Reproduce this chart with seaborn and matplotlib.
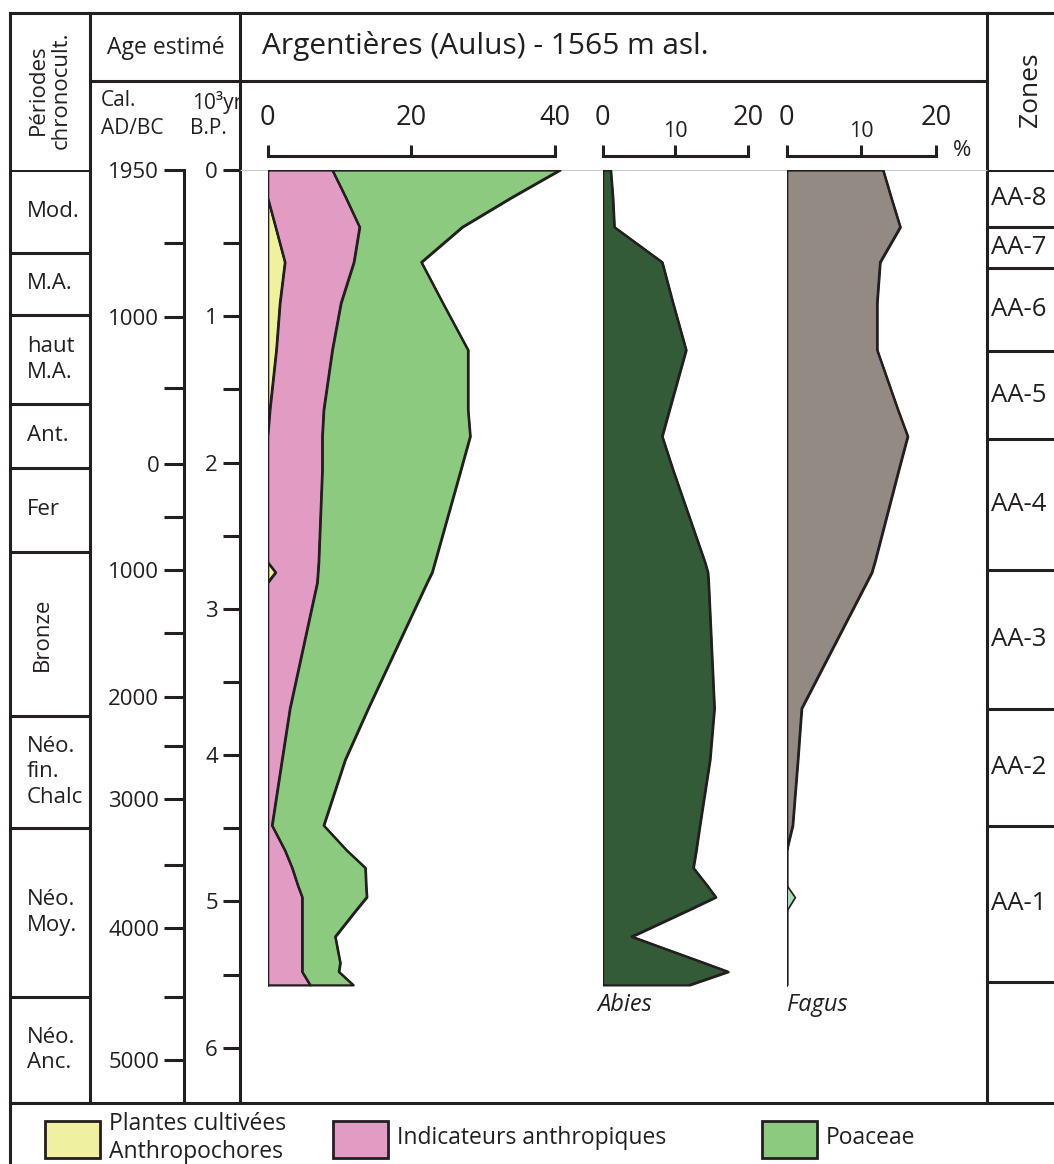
import numpy as np
import pandas as pd
import matplotlib
matplotlib.use('Agg')
import matplotlib.pyplot as plt
from matplotlib.patches import Rectangle
import seaborn as sns

sns.set_theme(style='white')
plt.rcParams['font.family'] = ['Open Sans', 'DejaVu Sans']

W, H = 1054, 1164

# ages des echantillons (10^3 yr BP)
age_bp = [0.00, 0.19, 0.39, 0.63, 0.91, 1.23, 1.64, 1.82, 2.05, 2.68, 2.75, 2.82,
          3.68, 4.03, 4.48, 4.65, 4.77, 4.89, 4.97, 5.06, 5.24, 5.42, 5.48, 5.57]
# % (courbes empilees : cultivees + indicateurs + poaceae)
cultivees = [0, 0, 1.1, 2.4, 1.7, 1.2, 0.3, 0, 0, 0, 1.1, 0,
             0, 0, 0, 0, 0, 0, 0, 0, 0, 0, 0, 0]
indicateurs = [9.0, 10.9, 11.7, 9.6, 8.5, 7.8, 7.5, 7.6, 7.6, 7.1, 5.9, 6.9,
               3.1, 2.0, 0.6, 2.4, 3.4, 4.2, 4.8, 4.8, 4.8, 4.8, 4.8, 5.9]
poaceae = [31.7, 23.0, 14.3, 9.4, 14.2, 18.9, 20.1, 20.6, 19.3, 16.2, 15.9, 15.3,
           10.9, 8.8, 7.2, 8.6, 10.2, 9.5, 9.0, 7.5, 4.6, 5.3, 5.1, 6.0]
abies = [1.1, 1.4, 1.6, 8.2, 9.7, 11.5, 9.2, 8.2, 9.7, 14.1, 14.5, 14.6,
         15.4, 14.8, 13.4, 12.9, 12.5, 14.4, 15.6, 11.8, 4.0, 14.0, 17.3, 12.0]
fagus = [12.9, 14.0, 15.2, 12.5, 12.1, 12.1, 14.9, 16.2, 15.0, 11.8, 11.4, 10.7,
         2.0, 1.5, 0.8, 0, 0, 0, 0, 0, 0, 0, 0, 0]
fagus_trace = [0, 0, 0, 0, 0, 0, 0, 0, 0, 0, 0, 0,
               0, 0, 0, 0, 0, 0, 1.1, 0, 0, 0, 0, 0]

# echelle calibree
cal_pos = [0, 1.003, 2.009, 2.734, 3.600, 4.300, 5.179, 6.083]
cal_labels = ['1950', '1000', '0', '1000', '2000', '3000', '4000', '5000']
cal_minor = [0.497, 1.489, 2.370, 3.167, 3.937, 4.750, 5.650]
bp_major = [0, 1, 2, 3, 4, 5, 6]
bp_minor = [0.5, 1.5, 2.5, 3.5, 4.5, 5.5]

periodes = ['Mod.', 'M.A.', 'haut\nM.A.', 'Ant.', 'Fer', 'Bronze',
            'Néo.\nfin.\nChalc', 'Néo.\nMoy.', 'Néo.\nAnc.']
periode_lim = [0, 0.565, 0.991, 1.599, 2.035, 2.609, 3.732, 4.496, 5.651, 6.378]
zones = ['AA-8', 'AA-7', 'AA-6', 'AA-5', 'AA-4', 'AA-3', 'AA-2', 'AA-1']
zone_lim = [0, 0.388, 0.672, 1.237, 1.841, 2.732, 3.682, 4.484, 5.550]

c_cult = '#eff0a0'
c_ind = '#e29bc3'
c_poa = '#8bca7f'
c_abies = '#345b38'
c_fagus = '#938a83'
c_trace = '#a6dcb6'
ink = '#231f20'

df = pd.DataFrame({'age': age_bp, 'cult': cultivees, 'ind': indicateurs,
                   'poa': poaceae, 'abies': abies, 'fagus': fagus,
                   'trace': fagus_trace})
df['c1'] = df['cult']
df['c2'] = df['c1'] + df['ind']
df['c3'] = df['c2'] + df['poa']

Y0, Y1 = 170, 1103
PXY = 146.3
DMAX = (Y1 - Y0) / PXY

fig = plt.figure(figsize=(W / 100, H / 100), dpi=100)

frame = fig.add_axes([0, 0, 1, 1])
frame.set_xlim(0, W)
frame.set_ylim(H, 0)
frame.axis('off')
frame.patch.set_alpha(0)


def add_ax(x0, x1):
    ax = fig.add_axes([x0 / W, 1 - Y1 / H, (x1 - x0) / W, (Y1 - Y0) / H])
    ax.set_ylim(DMAX, 0)
    ax.patch.set_alpha(0)
    for s in ax.spines.values():
        s.set_visible(False)
    ax.set_xlabel('')
    ax.set_ylabel('')
    return ax


lw_frame = 2.2
# cadre du tableau
segs = [((10, 13), (W, 13)), ((10, 13), (10, H)), ((90, 13), (90, Y1)),
        ((240, 13), (240, Y1)), ((987, 13), (987, Y1)), ((90, 81), (987, 81)),
        ((10, Y1), (W, Y1))]
for (xa, ya), (xb, yb) in segs:
    frame.plot([xa, xb], [ya, yb], color=ink, lw=lw_frame, solid_capstyle='projecting')
frame.plot([240, 987], [Y0, Y0], color='#cccccc', lw=0.8)

# en-tetes
frame.text(50, 90, 'Périodes\nchronocult.', rotation=90, ha='center', va='center',
           fontsize=16, linespacing=1.15, color=ink)
frame.text(166, 48, 'Age estimé', ha='center', va='center', fontsize=16.5, color=ink)
frame.text(101, 100, 'Cal.', ha='left', va='center', fontsize=15, color=ink)
frame.text(101, 128, 'AD/BC', ha='left', va='center', fontsize=15, color=ink)
frame.text(242, 102, '10³yr', ha='right', va='center', fontsize=15, color=ink)
frame.text(208, 128, 'B.P.', ha='center', va='center', fontsize=15, color=ink)
frame.text(262, 46, 'Argentières (Aulus) - 1565 m asl.', ha='left', va='center',
           fontsize=21.5, color=ink)
frame.text(1031, 90, 'Zones', rotation=90, ha='center', va='center', fontsize=19, color=ink)
frame.text(953, 150, '%', ha='left', va='center', fontsize=16, color=ink)

# periodes
ax_per = add_ax(10, 90)
ax_per.set_xlim(0, 1)
ax_per.hlines(periode_lim, 0, 1, color=ink, lw=lw_frame)
for i, lab in enumerate(periodes):
    mid = (periode_lim[i] + periode_lim[i + 1]) / 2
    if lab == 'Bronze':
        ax_per.text(0.4, mid, lab, rotation=90, ha='center', va='center', fontsize=16, color=ink)
    else:
        ax_per.text(0.21, mid, lab, ha='left', va='center', fontsize=16,
                    linespacing=1.3, color=ink)
ax_per.set_xticks([])
ax_per.set_yticks([])

# axe calibre
ax_cal = add_ax(184, 186)
ax_cal.spines['left'].set_visible(True)
ax_cal.spines['left'].set_linewidth(lw_frame)
ax_cal.spines['left'].set_color(ink)
ax_cal.set_xticks([])
ax_cal.set_yticks(cal_pos)
ax_cal.set_yticklabels(cal_labels)
ax_cal.set_yticks(cal_minor, minor=True)
ax_cal.tick_params(axis='y', which='both', left=True, direction='out', length=14.4,
                   width=lw_frame, color=ink, labelsize=16, pad=3.5, labelcolor=ink)

# axe BP
ax_bp = add_ax(240, 242)
ax_bp.set_xticks([])
ax_bp.set_yticks(bp_major)
ax_bp.set_yticklabels([str(v) for v in bp_major])
ax_bp.set_yticks(bp_minor, minor=True)
ax_bp.tick_params(axis='y', which='both', left=True, direction='out', length=12,
                  width=lw_frame, color=ink, labelsize=16, pad=4, labelcolor=ink)


def scale_bar(ax, vmax, major, minor=None):
    ax.spines['top'].set_visible(True)
    ax.spines['top'].set_position(('outward', 10))
    ax.spines['top'].set_bounds(0, vmax)
    ax.spines['top'].set_linewidth(lw_frame)
    ax.spines['top'].set_color(ink)
    ax.set_yticks([])
    ax.xaxis.tick_top()
    ax.set_xticks(major)
    ax.set_xticklabels([str(v) for v in major])
    ax.tick_params(axis='x', which='major', direction='out', length=8, width=lw_frame,
                   color=ink, labelsize=19.5, pad=9, labelcolor=ink)
    if minor is not None:
        ax.set_xticks(minor, minor=True)
        ax.set_xticklabels([str(v) for v in minor], minor=True)
        ax.tick_params(axis='x', which='minor', top=True, labeltop=True, bottom=False,
                       labelbottom=False, direction='out', length=8, width=lw_frame,
                       color=ink, labelsize=15.5, pad=2, labelcolor=ink)


# herbacees
ax_h = add_ax(267.7, 267.7 + 45 * 7.18)
ax_h.set_xlim(0, 45)
ax_h.fill_betweenx(df['age'], 0, df['c1'], facecolor=c_cult, edgecolor=ink, lw=1.6)
ax_h.fill_betweenx(df['age'], df['c1'], df['c2'], facecolor=c_ind, edgecolor=ink, lw=1.6)
ax_h.fill_betweenx(df['age'], df['c2'], df['c3'], facecolor=c_poa, edgecolor=ink, lw=1.6)
for col in ['c1', 'c2', 'c3']:
    sns.lineplot(data=df, x=col, y='age', orient='y', estimator=None, sort=False,
                 color=ink, lw=1.6, ax=ax_h)
scale_bar(ax_h, 40, [0, 20, 40])
ax_h.set_xlabel('')
ax_h.set_ylabel('')
ax_h.set_ylim(DMAX, 0)

# Abies
ax_a = add_ax(602.7, 602.7 + 25 * 7.25)
ax_a.set_xlim(0, 25)
ax_a.fill_betweenx(df['age'], 0, df['abies'], facecolor=c_abies, edgecolor=ink, lw=1.6)
sns.lineplot(data=df, x='abies', y='age', orient='y', estimator=None, sort=False,
             color=ink, lw=1.6, ax=ax_a)
scale_bar(ax_a, 20, [0, 20], [10])
ax_a.set_xlabel('')
ax_a.set_ylabel('')
ax_a.set_ylim(DMAX, 0)
ax_a.text(-0.8, (1005 - Y0) / PXY, 'Abies', style='italic', ha='left', va='center',
          fontsize=17, color=ink)

# Fagus
ax_f = add_ax(786.7, 786.7 + 25 * 7.47)
ax_f.set_xlim(0, 25)
ax_f.fill_betweenx(df['age'], 0, df['fagus'], facecolor=c_fagus, edgecolor=ink, lw=1.6)
ax_f.fill_betweenx(df['age'], 0, df['trace'], facecolor=c_trace, edgecolor=ink, lw=1.2)
sns.lineplot(data=df, x='fagus', y='age', orient='y', estimator=None, sort=False,
             color=ink, lw=1.6, ax=ax_f)
scale_bar(ax_f, 20, [0, 20], [10])
ax_f.set_xlabel('')
ax_f.set_ylabel('')
ax_f.set_ylim(DMAX, 0)
ax_f.text(0.1, (1005 - Y0) / PXY, 'Fagus', style='italic', ha='left', va='center',
          fontsize=17, color=ink)

# zones
ax_z = add_ax(987, W)
ax_z.set_xlim(0, 1)
ax_z.hlines(zone_lim, 0, 1, color=ink, lw=lw_frame)
for i, lab in enumerate(zones):
    mid = (zone_lim[i] + zone_lim[i + 1]) / 2
    ax_z.text(0.06, mid, lab, ha='left', va='center', fontsize=18.5, color=ink)
ax_z.set_xticks([])
ax_z.set_yticks([])

# legende
leg = [(45, c_cult, 'Plantes cultivées\nAnthropochores'),
       (333, c_ind, 'Indicateurs anthropiques'),
       (762, c_poa, 'Poaceae')]
for x0, col, lab in leg:
    frame.add_patch(Rectangle((x0, 1121), 55, 37, facecolor=col, edgecolor=ink, lw=2))
    frame.text(x0 + 64, 1138, lab, ha='left', va='center', fontsize=16.5,
               linespacing=1.2, color=ink)

fig.savefig('out.png', dpi=100)
